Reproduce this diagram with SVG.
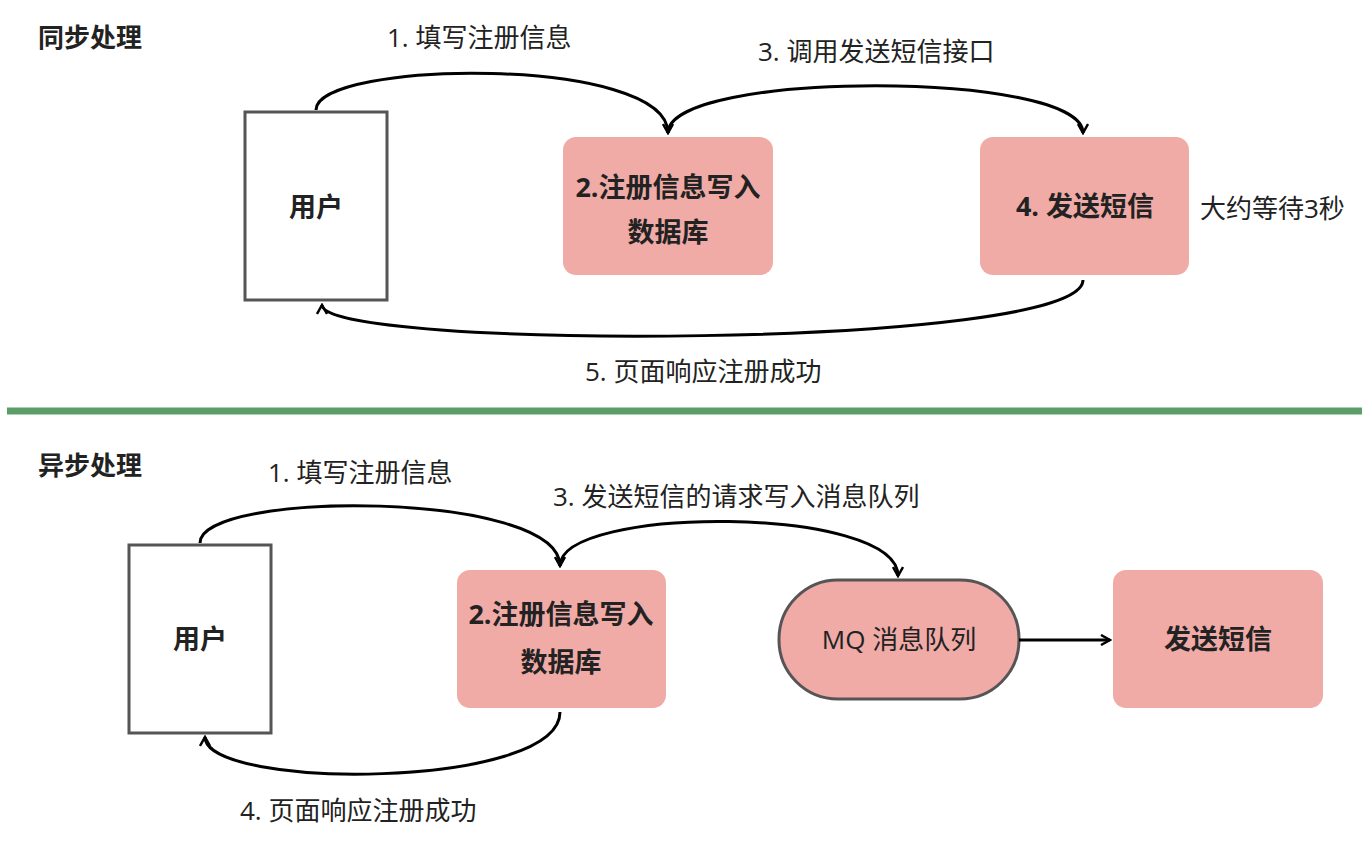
<svg xmlns="http://www.w3.org/2000/svg" width="1369" height="848" viewBox="0 0 1369 848">
<style>
text{font-family:"Open Sans","Noto Sans CJK SC",sans-serif;fill:#222}
.t{font-size:26px;font-weight:bold}
.l{font-size:26px}
.b{font-size:27px;font-weight:bold}
.user{fill:#fff;stroke:#555;stroke-width:3}
.pink{fill:#f0aba7}
.c{fill:none;stroke:#000;stroke-width:3}
</style>
<defs>
<marker id="a" viewBox="0 0 12 12" refX="10" refY="6" markerWidth="12" markerHeight="12" markerUnits="userSpaceOnUse" orient="auto">
<path d="M1,1 L10,6 L1,11" fill="none" stroke="#000" stroke-width="2.5"/>
</marker>
</defs>
<rect width="1369" height="848" fill="#fff"/>
<text class="t" x="38" y="47">同步处理</text>
<text class="t" x="38" y="475">异步处理</text>
<line x1="7" y1="411" x2="1362" y2="411" stroke="#5b9e68" stroke-width="7"/>
<g id="user1"><rect class="user" x="245" y="112" width="142" height="188"/><text class="b" x="316" y="217" text-anchor="middle">用户</text></g>
<g id="db1"><rect class="pink" x="563" y="137" width="210" height="138" rx="13"/><text class="b" x="668" y="197" text-anchor="middle">2.注册信息写入</text><text class="b" x="668" y="242" text-anchor="middle">数据库</text></g>
<g id="sms1"><rect class="pink" x="980" y="137" width="209" height="138" rx="13"/><text class="b" x="1085" y="216" text-anchor="middle">4. 发送短信</text></g>
<text class="l" x="1200" y="218">大约等待3秒</text>
<g id="user2"><rect class="user" x="129" y="545" width="142" height="188"/><text class="b" x="200" y="649" text-anchor="middle">用户</text></g>
<g id="db2"><rect class="pink" x="457" y="570" width="209" height="138" rx="13"/><text class="b" x="561" y="624" text-anchor="middle">2.注册信息写入</text><text class="b" x="561" y="672" text-anchor="middle">数据库</text></g>
<g id="mq"><rect x="779" y="580" width="240" height="119" rx="59" fill="#f0aba7" stroke="#555" stroke-width="3"/><text class="l" x="899" y="649" text-anchor="middle">MQ 消息队列</text></g>
<g id="sms2"><rect class="pink" x="1113" y="570" width="210" height="138" rx="13"/><text class="b" x="1218" y="649" text-anchor="middle">发送短信</text></g>
<g id="connectors">
<path class="c" d="M316,110 C316,60 668,55 668,133" marker-end="url(#a)"/>
<path class="c" d="M668,133 C668,70 1083,70 1083,133" marker-end="url(#a)"/>
<path class="c" d="M1083,280 C1083,350 322,350 322,305" marker-end="url(#a)"/>
<path class="c" d="M200,543 C200,490 560,490 560,566" marker-end="url(#a)"/>
<path class="c" d="M560,566 C560,505 898,505 898,576" marker-end="url(#a)"/>
<path class="c" d="M560,712 C560,790 205,790 205,737" marker-end="url(#a)"/>
<path class="c" d="M1019,640 L1110,640" marker-end="url(#a)"/>
</g>
<text class="l" x="387" y="47">1. 填写注册信息</text>
<text class="l" x="758" y="61">3. 调用发送短信接口</text>
<text class="l" x="585" y="381">5. 页面响应注册成功</text>
<text class="l" x="268" y="482">1. 填写注册信息</text>
<text class="l" x="553" y="506">3. 发送短信的请求写入消息队列</text>
<text class="l" x="240" y="820">4. 页面响应注册成功</text>
</svg>
